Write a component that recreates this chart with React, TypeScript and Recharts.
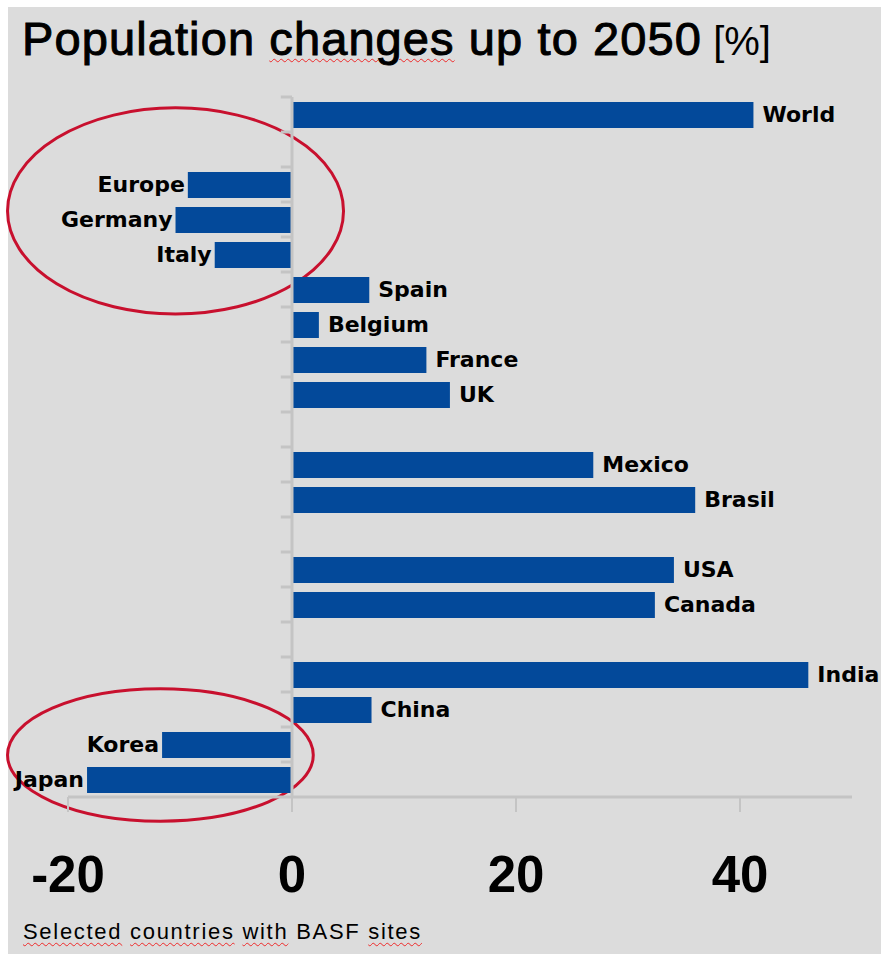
import React from 'react';
import { BarChart, Bar, XAxis, YAxis, ReferenceLine, ReferenceArea, LabelList } from 'recharts';

// Row categories (top to bottom); "gap" rows are empty spacer rows
const categories = [
  'World', 'gap1', 'Europe', 'Germany', 'Italy', 'Spain', 'Belgium', 'France', 'UK',
  'gap2', 'Mexico', 'Brasil', 'gap3', 'USA', 'Canada', 'gap4', 'India', 'China', 'Korea', 'Japan',
];
// Population change up to 2050 [%]
const values: (number | null)[] = [
  41.2, null, -9.3, -10.4, -6.9, 6.9, 2.4, 12.0, 14.1,
  null, 26.9, 36.0, null, 34.1, 32.4, null, 46.1, 7.1, -11.6, -18.3,
];
const xTicks = [-20, 0, 20, 40];
const xDomain: [number, number] = [-20, 50];
// Highlight ellipses in data units (x: percent, y: row units from the top)
const highlightX1 = [-25.4, -25.4];
const highlightX2 = [4.6, 1.9];
const highlightY1 = [0.31, 16.91];
const highlightY2 = [6.2, 20.69];

const data = categories.map((name, i) => ({ name, value: values[i], row: i }));

const AXIS_GRAY = '#c4c4c4';
const BAR_BLUE = '#03499a';
const RING_RED = '#c8102e';
const ARIAL = "'Liberation Sans', Arial, sans-serif";
const LABEL_FONT = "'DejaVu Sans', Verdana, sans-serif";

const wavy: React.CSSProperties = {
  textDecorationLine: 'underline',
  textDecorationStyle: 'wavy',
  textDecorationColor: '#ee2a2a',
  textDecorationThickness: '1px',
  textUnderlineOffset: '3px',
  WebkitTextStroke: 'inherit',
};

const XTick = (props: any) => {
  const { x, y, payload } = props;
  return (
    <text x={x} y={y} dy={80} textAnchor="middle" fontFamily={ARIAL} fontWeight="bold" fontSize={51} fill="#000">
      {payload.value}
    </text>
  );
};

const BarLabel = (props: any) => {
  const vb = props.viewBox || {};
  const x = props.x ?? vb.x;
  const y = props.y ?? vb.y;
  const width = props.width ?? vb.width;
  const height = props.height ?? vb.height;
  const row = props.value;
  if (typeof row !== 'number') return null;
  const v = values[row];
  if (v == null || x == null) return null;
  const name = categories[row];
  const left = Math.min(x, x + width);
  const right = Math.max(x, x + width);
  const positive = v >= 0;
  return (
    <text
      x={positive ? right + 9 : left - 3}
      y={y + height / 2}
      dy="0.33em"
      textAnchor={positive ? 'start' : 'end'}
      fontFamily={LABEL_FONT}
      fontWeight="bold"
      fontSize={22}
      fill="#000"
    >
      {name}
    </text>
  );
};

// Ellipse inside the x-range of the area; vertical extent given in row units
const makeEllipse = (r1: number, r2: number) => (p: any) => {
  const w = Math.abs(p.width);
  const h = Math.abs(p.height);
  const x = Math.min(p.x, p.x + p.width);
  const y = Math.min(p.y, p.y + p.height);
  const rowPx = h / categories.length;
  const top = y + r1 * rowPx;
  const bottom = y + r2 * rowPx;
  return (
    <ellipse
      cx={x + w / 2}
      cy={(top + bottom) / 2}
      rx={w / 2}
      ry={(bottom - top) / 2}
      fill="none"
      stroke={RING_RED}
      strokeWidth={3}
    />
  );
};

// Small tick marks on the zero line at every row boundary
const RowTicks = (p: any) => {
  const w = Math.abs(p.width);
  const h = Math.abs(p.height);
  const x = Math.min(p.x, p.x + p.width);
  const y = Math.min(p.y, p.y + p.height);
  const rowPx = h / categories.length;
  return (
    <g>
      {categories.map((c, i) => (
        <line key={c} x1={x} x2={x + w} y1={y + i * rowPx} y2={y + i * rowPx} stroke={AXIS_GRAY} strokeWidth={3} />
      ))}
    </g>
  );
};

export default function App() {
  return (
    <div style={{ position: 'absolute', left: 0, top: 0, width: 881, height: 954, background: '#fff', overflow: 'hidden' }}>
      <div style={{ position: 'absolute', left: 8, top: 7, width: 873, height: 947, background: '#dcdcdc' }} />
      <div
        style={{
          position: 'absolute',
          left: 22,
          top: 15,
          whiteSpace: 'nowrap',
          fontFamily: ARIAL,
          color: '#000',
          lineHeight: '47px',
          fontSize: 47,
        }}
      >
        <span style={{ letterSpacing: 1.1, WebkitTextStroke: '1px #000' }}>
          Population <span style={wavy}>changes</span> up to 2050
        </span>
        <span style={{ fontSize: 40 }}> [%]</span>
      </div>
      <div style={{ position: 'absolute', left: 0, top: 0 }}>
        <BarChart
          width={881}
          height={954}
          data={data}
          layout="vertical"
          margin={{ top: 97, right: 29, left: 68, bottom: 57 }}
          barSize={26}
        >
          <XAxis
            type="number"
            domain={xDomain}
            ticks={xTicks}
            allowDataOverflow
            height={100}
            axisLine={{ stroke: AXIS_GRAY, strokeWidth: 3 }}
            tickLine={{ stroke: AXIS_GRAY, strokeWidth: 2 }}
            tickSize={15}
            tickMargin={0}
            tick={<XTick />}
            interval={0}
          />
          <YAxis type="category" dataKey="name" hide />
          {highlightX1.map((x1, i) => (
            <ReferenceArea
              key={'ring' + i}
              x1={x1}
              x2={highlightX2[i]}
              ifOverflow="visible"
              shape={makeEllipse(highlightY1[i], highlightY2[i])}
            />
          ))}
          <Bar dataKey="value" fill={BAR_BLUE} isAnimationActive={false}>
            <LabelList dataKey="row" content={<BarLabel />} />
          </Bar>
          <ReferenceLine x={0} stroke={AXIS_GRAY} strokeWidth={3} />
          <ReferenceArea x1={-1} x2={0} ifOverflow="visible" shape={RowTicks} />
        </BarChart>
      </div>
      <div
        style={{
          position: 'absolute',
          left: 23,
          top: 921,
          whiteSpace: 'nowrap',
          fontFamily: ARIAL,
          fontSize: 22,
          lineHeight: '22px',
          letterSpacing: 1.7,
          color: '#000',
        }}
      >
        <span style={wavy}>Selected</span> <span style={wavy}>countries</span> <span style={wavy}>with</span> BASF{' '}
        <span style={wavy}>sites</span>
      </div>
    </div>
  );
}
